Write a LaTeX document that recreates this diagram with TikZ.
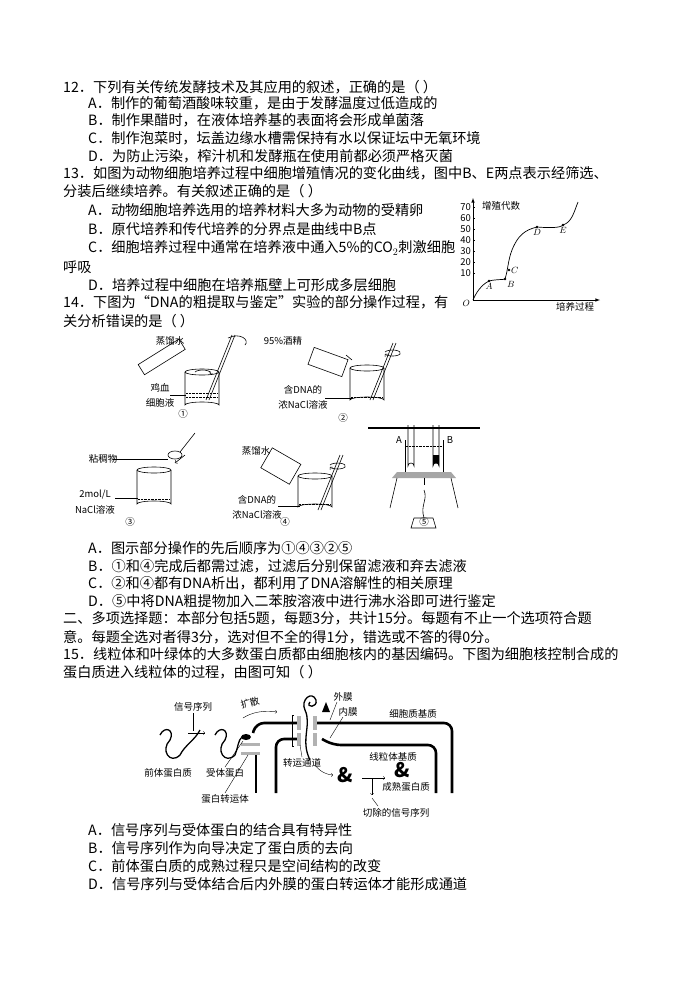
\documentclass[tikz,border=0pt]{standalone}
\usepackage{fontspec}
\setmainfont{Noto Sans CJK SC}
\begin{document}
\begin{tikzpicture}[x=1pt,y=-1pt,
  t/.style={anchor=west,inner sep=0pt,font=\fontsize{14.2}{16}\selectfont},
  s/.style={inner sep=0pt,font=\fontsize{9.5}{11}\selectfont},
  mem/.style={line width=2.6pt,rounded corners=8pt},
  bk/.style={line width=0.6pt}]
\useasboundingbox (0,0) rectangle (695,983);
\fill[white] (0,0) rectangle (695,983);
% ---- text
\node[t] at (63,87) {12．下列有关传统发酵技术及其应用的叙述，正确的是（ ）};
\node[t] at (88,103) {A．制作的葡萄酒酸味较重，是由于发酵温度过低造成的};
\node[t] at (88,120) {B．制作果醋时，在液体培养基的表面将会形成单菌落};
\node[t] at (88,138) {C．制作泡菜时，坛盖边缘水槽需保持有水以保证坛中无氧环境};
\node[t] at (88,156) {D．为防止污染，榨汁机和发酵瓶在使用前都必须严格灭菌};
\node[t] at (63,173) {13．如图为动物细胞培养过程中细胞增殖情况的变化曲线，图中B、E两点表示经筛选、};
\node[t] at (63,191) {分装后继续培养。有关叙述正确的是（ ）};
\node[t] at (88,210) {A．动物细胞培养选用的培养材料大多为动物的受精卵};
\node[t] at (88,229) {B．原代培养和传代培养的分界点是曲线中B点};
\node[t] at (88,248) {C．细胞培养过程中通常在培养液中通入5\%的CO$_2$刺激细胞};
\node[t] at (63,267) {呼吸};
\node[t] at (88,285) {D．培养过程中细胞在培养瓶壁上可形成多层细胞};
\node[t] at (63,302) {14．下图为“DNA的粗提取与鉴定”实验的部分操作过程，有};
\node[t] at (63,321) {关分析错误的是（ ）};
\node[t] at (88,548) {A．图示部分操作的先后顺序为①④③②⑤};
\node[t] at (88,566) {B．①和④完成后都需过滤，过滤后分别保留滤液和弃去滤液};
\node[t] at (88,583) {C．②和④都有DNA析出，都利用了DNA溶解性的相关原理};
\node[t] at (88,601) {D．⑤中将DNA粗提物加入二苯胺溶液中进行沸水浴即可进行鉴定};
\node[t] at (63,618) {二、多项选择题：本部分包括5题，每题3分，共计15分。每题有不止一个选项符合题};
\node[t] at (63,637) {意。每题全选对者得3分，选对但不全的得1分，错选或不答的得0分。};
\node[t] at (63,654) {15．线粒体和叶绿体的大多数蛋白质都由细胞核内的基因编码。下图为细胞核控制合成的};
\node[t] at (63,672) {蛋白质进入线粒体的过程，由图可知（ ）};
\node[t] at (88,830) {A．信号序列与受体蛋白的结合具有特异性};
\node[t] at (88,848) {B．信号序列作为向导决定了蛋白质的去向};
\node[t] at (88,866) {C．前体蛋白质的成熟过程只是空间结构的改变};
\node[t] at (88,884) {D．信号序列与受体结合后内外膜的蛋白转运体才能形成通道};
% ---- graph
\draw[-latex,line width=0.6pt] (473,300) -- (600,300);
\draw[-latex,line width=0.6pt] (473,300) -- (473,198);
\foreach \v/\yy in {70/207,60/218,50/229,40/240,30/251,20/262,10/273}
  {\node[s,anchor=east] at (471,\yy) {\v}; \draw (473,\yy) -- (475,\yy);}
\node[s,anchor=west] at (482,206) {增殖代数};
\node[s,anchor=east,font=\itshape\fontsize{9.5}{11}\selectfont] at (470,303) {$O$};
\node[s,anchor=north] at (575,302) {培养过程};
\draw[line width=0.7pt] (473,300) .. controls (478,288) and (485,283) .. (489,281) .. controls (497,279) and (503,280) .. (505,279)
  .. controls (508,270) and (508,260) .. (512,250) .. controls (518,235) and (525,230) .. (537,227)
  .. controls (550,228) and (560,228) .. (563,225) .. controls (572,222) and (574,212) .. (578,202);
\foreach \p/\l/\a in {{(489,281)}/A/north,{(505,279)}/B/north west,{(509,270)}/C/west,{(537,227)}/D/north,{(563,225)}/E/north}
  {\fill \p circle (1.4pt); \node[s,anchor=\a,inner sep=2pt,font=\itshape\fontsize{9.5}{11}\selectfont] at \p {$\l$};}
% ---- beaker 1
\draw[bk] (185,372) -- (185,405) arc (180:360:17 and 3) -- (219,372);
\draw[bk] (202,372) ellipse (17 and 3);
\draw[densely dotted] (186,393) -- (218,393); \draw[densely dotted] (186,397) -- (218,397);
\draw[bk,rotate around={32:(160,358)}] (138,352) rectangle (186,364);
\draw[bk] (232,335) -- (206,400); \draw[bk] (235,335) -- (209,400);
\draw[bk] (228,338) .. controls (240,332) and (250,340) .. (245,345);
\draw[->,bk] (195,372) arc (200:380:8 and 3);
\node[s] at (170,341) {蒸馏水};
\node[s] at (160,388) {鸡血}; \node[s] at (160,403) {细胞液};
\draw (170,395) -- (186,395);
\node[s] at (183,414) {①};
% ---- beaker 2
\draw[bk] (350,368) -- (350,400) arc (180:360:17 and 3) -- (384,368);
\draw[bk] (367,368) ellipse (17 and 3);
\draw[densely dotted] (351,397) -- (383,397);
\draw[bk,rotate around={-20:(328,362)}] (310,353) rectangle (346,371);
\draw[bk] (346,355) -- (352,360);
\draw[bk] (393,343) -- (370,400); \draw[bk] (396,343) -- (373,400);
\draw[->,bk] (385,352) arc (200:520:8 and 3);
\node[s] at (283,341) {95\%酒精};
\node[s] at (303,390) {含DNA的}; \node[s] at (303,405) {浓NaCl溶液};
\draw (325,398) -- (352,398);
\node[s] at (343,418) {②};
% ---- beaker 3
\draw[bk] (137,470) -- (137,504) arc (180:360:17 and 3) -- (171,470);
\draw[bk] (154,470) ellipse (17 and 3);
\draw[densely dotted] (138,499) -- (170,499);
\draw[bk] (175,455) ellipse (7 and 4);
\draw[bk] (180,452) -- (195,433);
\draw[->,bk] (185,455) -- (175,463);
\draw (113,459) -- (168,459);
\node[s] at (103,459) {粘稠物};
\node[s] at (95,495) {2mol/L}; \node[s] at (95,510) {NaCl溶液};
\draw (115,498) -- (138,498);
\node[s] at (130,522) {③};
% ---- beaker 4
\draw[bk] (298,476) -- (298,507) arc (180:360:17 and 3) -- (332,476);
\draw[bk] (315,476) ellipse (17 and 3);
\draw[densely dotted] (299,504) -- (331,504);
\draw[bk,rotate around={-30:(282,465)}] (265,455) rectangle (298,478);
\draw[bk] (340,455) -- (318,510); \draw[bk] (343,455) -- (321,510);
\draw[->,bk] (330,465) arc (200:520:8 and 3);
\node[s] at (256,451) {蒸馏水};
\node[s] at (257,500) {含DNA的}; \node[s] at (257,515) {浓NaCl溶液};
\draw (278,506) -- (300,506);
\node[s] at (285,522) {④};
% ---- apparatus 5
\draw[line width=1.4pt] (368,428) -- (480,428);
\draw[bk] (405,440) -- (405,472) -- (443,472) -- (443,440);
\draw[densely dotted] (406,446) -- (442,446);
\draw[bk] (408,425) -- (408,466) arc (180:360:3) -- (414,425);
\draw[bk] (433,425) -- (433,466) arc (180:360:3) -- (439,425);
\fill (433,455) -- (433,466) arc (180:360:3) -- (439,455) -- cycle;
\fill[gray!70] (397,472) -- (451,472) -- (456,478) -- (392,478) -- cycle;
\draw[bk] (397,478) -- (390,508); \draw[bk] (451,478) -- (458,508); \draw[bk] (424,478) -- (424,485);
\draw[bk] (414,518) -- (433,518) -- (436,528) -- (411,528) -- cycle;
\draw[bk] (424,518) .. controls (420,505) and (428,500) .. (424,490);
\node[s] at (399,440) {A}; \node[s] at (450,440) {B};
\node[s] at (424,522) {⑤};
% ---- mitochondria figure
\draw[mem] (253,733) -- (256,723) -- (300,723);
\draw[mem] (315,723) -- (452,723) -- (452,793);
\draw[mem] (256,753) -- (256,793);
\draw[mem] (276,793) -- (276,739) -- (300,739);
\draw[mem] (322,739) -- (333,745) -- (436,745) -- (436,793);
\fill[gray!60] (297,716) rectangle (301,730); \fill[gray!60] (313,716) rectangle (317,730);
\fill[gray!60] (297,733) rectangle (301,746); \fill[gray!60] (313,733) rectangle (317,746);
\fill[gray!60] (241,743) rectangle (260,746); \fill[gray!60] (241,752) rectangle (260,755);
\draw (294,715) -- (292,715) -- (292,746) -- (294,746);
\draw[line width=1.3pt] (160,735) .. controls (165,725) and (175,730) .. (170,740) .. controls (160,750) and (170,765) .. (180,755) .. controls (185,745) and (195,740) .. (200,730);
\draw[line width=1.3pt] (215,735) .. controls (220,725) and (230,730) .. (225,740) .. controls (215,750) and (225,765) .. (235,755) .. controls (238,748) and (238,740) .. (242,737);
\fill (246,737) ellipse (5 and 3);
\draw[line width=1.3pt] (310,760) .. controls (300,740) and (312,725) .. (305,710) .. controls (300,700) and (312,690) .. (316,700) .. controls (318,708) and (305,708) .. (310,702);
\fill (322,712) -- (326,702) -- (330,712) -- cycle;
\node[s,font=\bfseries\fontsize{20}{20}\selectfont] at (345,775) {\&};
\node[s,font=\bfseries\fontsize{20}{20}\selectfont] at (402,770) {\&};
\draw[->] (315,765) .. controls (320,772) and (328,775) .. (333,775);
\draw[->] (362,778) -- (385,778);
\draw[->] (372,778) -- (372,795);
\draw[->] (243,718) .. controls (252,712) and (265,710) .. (277,712);
\draw[->] (188,733) -- (205,733);
\node[s] at (193,707) {信号序列}; \draw (193,713) -- (193,731);
\node[s,rotate=15] at (250,703) {扩散};
\node[s] at (343,697) {外膜}; \draw (337,702) -- (330,720);
\node[s] at (348,712) {内膜}; \draw (343,717) -- (330,738);
\node[s] at (413,714) {细胞质基质};
\node[s] at (393,757) {线粒体基质};
\node[s] at (168,773) {前体蛋白质};
\node[s] at (225,773) {受体蛋白}; \draw (225,767) -- (243,741);
\node[s] at (302,763) {转运通道}; \draw (302,757) -- (300,745);
\node[s] at (406,787) {成熟蛋白质};
\node[s] at (225,799) {蛋白转运体}; \draw (225,793) -- (248,755);
\node[s] at (396,813) {切除的信号序列}; \draw (372,798) -- (378,806);
\end{tikzpicture}
\end{document}
